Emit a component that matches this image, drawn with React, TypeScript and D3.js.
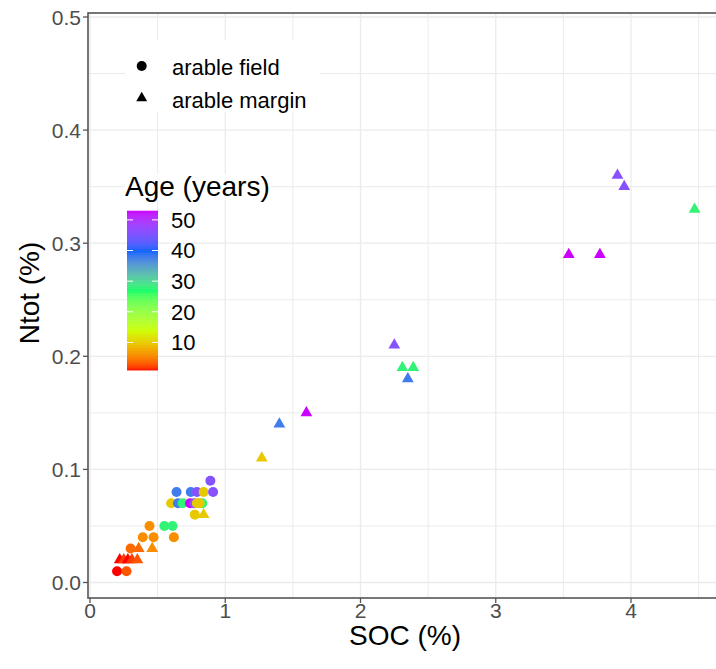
import React from "react";
import * as d3 from "d3";

// ---- data ----
const fieldSOC = [0.20, 0.27, 0.30, 0.39, 0.47, 0.62, 0.44, 0.55, 0.61, 0.60, 0.65, 0.685, 0.74, 0.77, 0.79, 0.83, 0.81, 0.64, 0.745, 0.79, 0.84, 0.91, 0.89, 0.775];
const fieldNtot = [0.01, 0.01, 0.03, 0.04, 0.04, 0.04, 0.05, 0.05, 0.05, 0.07, 0.07, 0.07, 0.07, 0.07, 0.07, 0.07, 0.07, 0.08, 0.08, 0.08, 0.08, 0.08, 0.09, 0.06];
const fieldAge = [1, 3, 4, 6, 6, 6, 6, 28, 28, 10, 38, 28, 53, 46, 10, 28, 10, 38, 38, 46, 10, 46, 46, 10];

const marginSOC = [3.90, 3.95, 4.47, 3.54, 3.77, 2.25, 2.31, 2.39, 2.35, 1.60, 1.40, 1.27, 0.84, 0.46, 0.36, 0.22, 0.25, 0.28, 0.31, 0.35];
const marginNtot = [0.36, 0.35, 0.33, 0.29, 0.29, 0.21, 0.19, 0.19, 0.18, 0.15, 0.14, 0.11, 0.06, 0.03, 0.03, 0.02, 0.02, 0.02, 0.02, 0.02];
const marginAge = [46, 46, 28, 53, 53, 46, 28, 28, 38, 53, 38, 10, 10, 6, 4, 1, 2, 1, 2, 3];

const xTicks = [0, 1, 2, 3, 4];
const xMinor = [0.5, 1.5, 2.5, 3.5, 4.5];
const yTicks = [0, 0.1, 0.2, 0.3, 0.4, 0.5];
const yMinor = [0.05, 0.15, 0.25, 0.35, 0.45];
const ageTicks = [10, 20, 30, 40, 50];
const ageRange = [1, 53];
const rainbowCols = ["#FF0000", "#CCFF00", "#00FF66", "#0066FF", "#CC00FF"];
const shapeLabels = ["arable field", "arable margin"];

const W = 716, H = 669;
const FONT = "'Liberation Sans', Arial, Helvetica, sans-serif";

export default function App() {
  const pLeft = 88, pRight = 722, pTop = 13, pBottom = 598;
  const x = d3.scaleLinear().domain([0, 4]).range([90, 631]);
  const y = d3.scaleLinear().domain([0, 0.5]).range([582.5, 17]);
  const ageStops = d3.range(rainbowCols.length).map(i => ageRange[0] + (ageRange[1] - ageRange[0]) * i / (rainbowCols.length - 1));
  const col = d3.scaleLinear<string>().domain(ageStops).range(rainbowCols).interpolate(d3.interpolateLab);

  const tri = d3.symbol().type(d3.symbolTriangle).size(60)();
  const triSmall = d3.symbol().type(d3.symbolTriangle).size(52)();

  // colorbar
  const cbX = 127, cbW = 31, cbTop = 210.7, cbBot = 370;
  const cb = d3.scaleLinear().domain(ageRange).range([cbBot, cbTop]);
  const nBins = 80;
  const bins = d3.range(nBins).map(i => ageRange[0] + (ageRange[1] - ageRange[0]) * (i + 0.5) / nBins);

  const field = fieldSOC.map((s, i) => ({ s, n: fieldNtot[i], a: fieldAge[i] }));
  const margin = marginSOC.map((s, i) => ({ s, n: marginNtot[i], a: marginAge[i] }));

  return (
    <svg width={W} height={H} style={{ position: "absolute", left: 0, top: 0, background: "#fff" }} fontFamily={FONT}>
      <rect x={0} y={0} width={W} height={H} fill="#fff" />
      {/* grid */}
      <g>
        {xMinor.map(v => <line key={"xm" + v} x1={x(v)} x2={x(v)} y1={pTop} y2={pBottom} stroke="#ebebeb" strokeWidth={1} />)}
        {yMinor.map(v => <line key={"ym" + v} x1={pLeft} x2={pRight} y1={y(v)} y2={y(v)} stroke="#ebebeb" strokeWidth={1} />)}
        {xTicks.map(v => <line key={"xg" + v} x1={x(v)} x2={x(v)} y1={pTop} y2={pBottom} stroke="#ebebeb" strokeWidth={1.3} />)}
        {yTicks.map(v => <line key={"yg" + v} x1={pLeft} x2={pRight} y1={y(v)} y2={y(v)} stroke="#ebebeb" strokeWidth={1.3} />)}
      </g>
      {/* points */}
      <g>
        {field.map((d, i) => <circle key={"f" + i} cx={x(d.s)} cy={y(d.n)} r={5} fill={col(d.a)} />)}
        {margin.map((d, i) => <path key={"m" + i} d={tri} transform={`translate(${x(d.s)},${y(d.n)})`} fill={col(d.a)} />)}
      </g>
      {/* panel border */}
      <rect x={pLeft} y={pTop} width={pRight - pLeft} height={pBottom - pTop} fill="none" stroke="#555" strokeWidth={1.6} />
      {/* axes ticks */}
      {yTicks.map(v => (
        <g key={"yt" + v}>
          <line x1={pLeft - 5} x2={pLeft} y1={y(v)} y2={y(v)} stroke="#555" strokeWidth={1.3} />
          <text x={pLeft - 7} y={y(v)} dy="0.36em" textAnchor="end" fontSize={21} fill="#4d4d4d">{d3.format(".1f")(v)}</text>
        </g>
      ))}
      {xTicks.map(v => (
        <g key={"xt" + v}>
          <line x1={x(v)} x2={x(v)} y1={pBottom} y2={pBottom + 5} stroke="#555" strokeWidth={1.3} />
          <text x={x(v)} y={pBottom + 20} textAnchor="middle" fontSize={21} fill="#4d4d4d">{String(v)}</text>
        </g>
      ))}
      <text x={405} y={645} textAnchor="middle" fontSize={28} fill="#000">SOC (%)</text>
      <text transform={`translate(39,293) rotate(-90)`} textAnchor="middle" fontSize={28} fill="#000">Ntot (%)</text>

      {/* shape legend */}
      <rect x={125} y={40} width={195} height={72} fill="#fff" />
      <circle cx={141.7} cy={66} r={5} fill="#000" />
      <path d={triSmall} transform={`translate(141.7,98)`} fill="#000" />
      <text x={172} y={67} dy="0.36em" fontSize={22} fill="#000">{shapeLabels[0]}</text>
      <text x={172} y={100} dy="0.36em" fontSize={22} fill="#000">{shapeLabels[1]}</text>

      {/* color legend */}
      <rect x={125} y={174} width={146} height={26} fill="#fff" />
      <text x={125} y={186} dy="0.36em" fontSize={28} fill="#000">Age (years)</text>
      {bins.map((b, i) => (
        <rect key={"cb" + i} x={cbX} y={cbBot - (cbBot - cbTop) * (i + 1) / nBins} width={cbW} height={(cbBot - cbTop) / nBins + 0.5} fill={col(b)} />
      ))}
      {ageTicks.map(v => (
        <g key={"at" + v}>
          <line x1={cbX} x2={cbX + 6} y1={cb(v)} y2={cb(v)} stroke="#fff" strokeWidth={1} />
          <line x1={cbX + cbW - 6} x2={cbX + cbW} y1={cb(v)} y2={cb(v)} stroke="#fff" strokeWidth={1} />
          <text x={171} y={cb(v)} dy="0.36em" fontSize={22} fill="#000">{String(v)}</text>
        </g>
      ))}
    </svg>
  );
}
